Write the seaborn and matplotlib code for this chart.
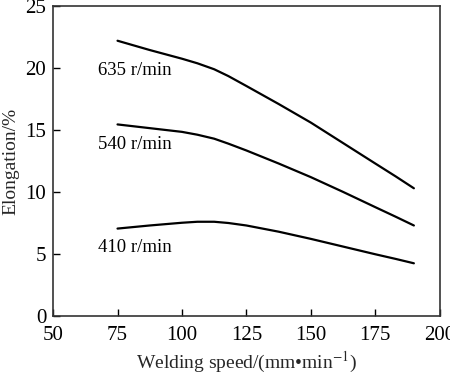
import matplotlib
matplotlib.use("Agg")
import matplotlib.pyplot as plt
import seaborn as sns
import pandas as pd

speed = [75, 87.5, 100, 106, 112.5, 118, 125, 137.5, 150, 162.5, 175, 183, 190]
e635 = [22.2, 21.45, 20.75, 20.38, 19.9, 19.35, 18.55, 17.1, 15.6, 13.95, 12.3, 11.25, 10.3]
e540 = [15.45, 15.15, 14.85, 14.62, 14.3, 13.9, 13.35, 12.3, 11.2, 10.01, 8.78, 8.0, 7.3]
e410 = [7.05, 7.3, 7.52, 7.6, 7.6, 7.5, 7.3, 6.8, 6.22, 5.6, 4.98, 4.6, 4.25]
labels = ["635 r/min", "540 r/min", "410 r/min"]
label_pos = [(67.5, 19.8), (67.5, 13.8), (67.5, 5.55)]

rows = []
for lab, vals in zip(labels, [e635, e540, e410]):
    for s, v in zip(speed, vals):
        rows.append({"speed": s, "elong": v, "series": lab})
df = pd.DataFrame(rows)

sns.set_theme(style="ticks")
plt.rcParams['font.family'] = ['Liberation Serif', 'DejaVu Serif']
plt.rcParams['mathtext.fontset'] = 'stix'

fig = plt.figure(figsize=(4.5, 3.76), dpi=100)
ax = fig.add_axes([0.118, 0.1596, 0.859, 0.8244])

sns.lineplot(data=df, x="speed", y="elong", units="series", estimator=None,
             color="black", linewidth=1.6, ax=ax, legend=False)

for lab, (x, y) in zip(labels, label_pos):
    ax.text(x, y, lab, fontsize=13.5, va="center", ha="left", color="black")

ax.set_xlim(50, 200)
ax.set_ylim(0, 25)
ax.set_xticks([50, 75, 100, 125, 150, 175, 200])
ax.set_yticks([0, 5, 10, 15, 20, 25])
ax.tick_params(direction="in", length=5, width=1, labelsize=15, colors="black")
ax.tick_params(axis="x", pad=7)
ax.tick_params(axis="y", pad=5)
ax.set_xlabel("Welding speed/(mm•min$^{-1}$)", fontsize=14, labelpad=4)
ax.set_ylabel("Elongation/%", fontsize=14, labelpad=4)
for sp in ax.spines.values():
    sp.set_visible(True)
    sp.set_linewidth(1.2)
    sp.set_color("#333333")

fig.savefig("out.png", dpi=100)
